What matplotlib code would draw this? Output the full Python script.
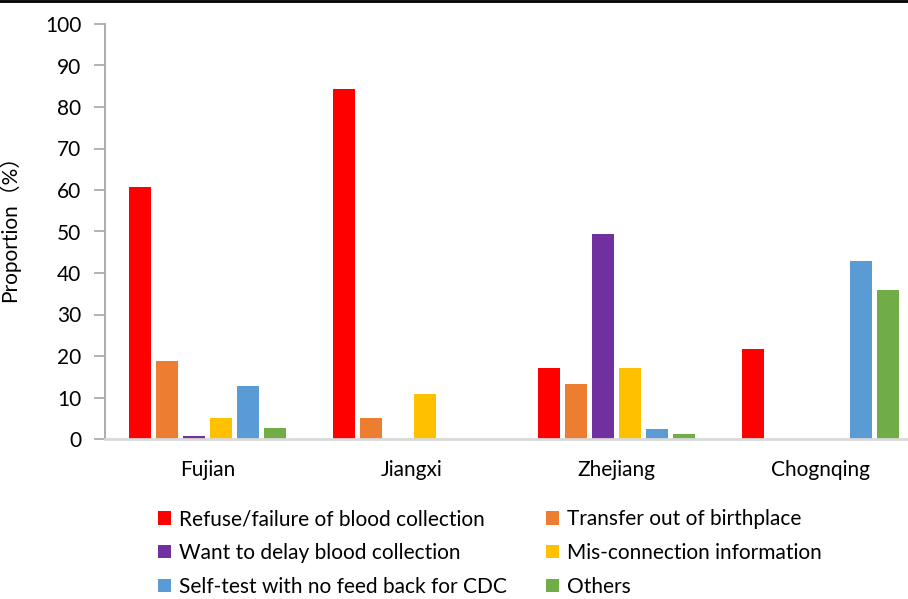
import numpy as np
import matplotlib
matplotlib.use("Agg")
import matplotlib.pyplot as plt
from matplotlib.lines import Line2D

plt.rcParams['font.family'] = ['Lato', 'Noto Sans CJK SC', 'DejaVu Sans']

provinces = ["Fujian", "Jiangxi", "Zhejiang", "Chognqing"]
reasons = [
    "Refuse/failure of blood collection",
    "Transfer out of birthplace",
    "Want to delay blood collection",
    "Mis-connection information",
    "Self-test with no feed back for CDC",
    "Others",
]
colors = ["#ff0000", "#ed7d31", "#7030a0", "#ffc000", "#5b9bd5", "#70ad47"]

# proportion (%) per reason, one value per province
refuse = [60.8, 84.3, 17.2, 21.6]
transfer = [18.9, 5.1, 13.3, 0]
delay = [0.7, 0, 49.5, 0]
misconn = [5.1, 10.9, 17.2, 0]
selftest = [12.8, 0, 2.4, 43.0]
others = [2.6, 0, 1.2, 35.8]
series = [refuse, transfer, delay, misconn, selftest, others]

fs = 15

fig = plt.figure(figsize=(9.08, 5.99), dpi=100)
ax = fig.add_axes([105 / 908, 160 / 599, 818 / 908, 415 / 599])

x = np.arange(len(provinces))
step = 0.132
for i, (vals, c) in enumerate(zip(series, colors)):
    ax.bar(x + (i - 2.5) * step, vals, width=0.107, color=c, label=reasons[i], zorder=2)

ax.set_xlim(-0.5, 3.5)
ax.set_ylim(0, 100)
ax.set_yticks(range(0, 101, 10))
ax.set_xticks(x)
ax.set_xticklabels(provinces, fontsize=fs)
ax.tick_params(axis='y', labelsize=fs, direction='out', length=8, color='#a6a6a6', width=1.2, pad=9)
ax.tick_params(axis='x', length=0, pad=15)

for s in ['top', 'right']:
    ax.spines[s].set_visible(False)
ax.spines['left'].set_color('#a6a6a6')
ax.spines['left'].set_linewidth(1.3)
ax.spines['bottom'].set_color('#d9d9d9')
ax.spines['bottom'].set_linewidth(2)
ax.spines['bottom'].set_zorder(3)

ax.set_ylabel("Proportion（%）", fontsize=fs)
ax.yaxis.set_label_coords(-85 / 818, 0.52)

handles, labels = ax.get_legend_handles_labels()
order = [0, 2, 4, 1, 3, 5]
fig.legend([handles[k] for k in order], [labels[k] for k in order],
           loc='center', bbox_to_anchor=(490 / 908, 1 - 553 / 599), ncol=2,
           frameon=False, fontsize=fs, handlelength=0.6, handleheight=0.6,
           handletextpad=0.4, columnspacing=1.9, labelspacing=0.66,
           borderpad=0.2)

# frame line along the top edge of the picture
fig.add_artist(Line2D([0, 1], [0.998, 0.998], color='black', lw=2, transform=fig.transFigure))

fig.savefig("out.png", dpi=100)
